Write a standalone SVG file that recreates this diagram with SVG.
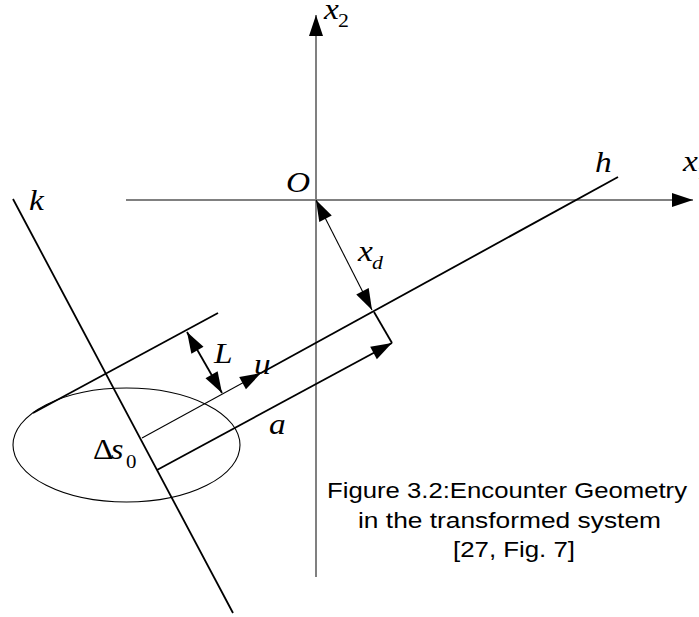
<svg xmlns="http://www.w3.org/2000/svg" width="699" height="617" viewBox="0 0 699 617">
<style>
.ax{stroke:#808080;stroke-width:2;fill:none}
.thick{stroke:#000;stroke-width:1.8;fill:none}
.thin{stroke:#000;stroke-width:1.1;fill:none}
.m{font-family:"Liberation Serif","Times New Roman",serif;font-style:italic;font-size:29px;fill:#000}
.up{font-style:normal}
.sub{font-size:19px}
.cap{font-family:"Liberation Sans",Arial,sans-serif;font-size:21.5px;fill:#000}
</style>
<defs>
<marker id="ah" markerUnits="userSpaceOnUse" markerWidth="22" markerHeight="15" refX="21" refY="7" orient="auto-start-reverse" overflow="visible">
<path d="M0,0 L21,7 L0,14 z" fill="#000"/>
</marker>
</defs>
<rect width="699" height="617" fill="#fff"/>
<g id="axes">
<line class="ax" x1="126" y1="200" x2="693" y2="200" marker-end="url(#ah)"/>
<line class="ax" x1="316" y1="577" x2="316" y2="15" marker-end="url(#ah)"/>
</g>
<g id="geometry">
<ellipse class="thin" cx="126.5" cy="445" rx="113.5" ry="57"/>
<line class="thick" x1="13" y1="199" x2="233" y2="613"/>
<line class="thick" x1="618" y1="177" x2="261" y2="373"/>
<line class="thick" x1="33" y1="413" x2="218" y2="313"/>
</g>
<g id="connectors">
<line class="thin" x1="142" y1="438" x2="261" y2="373" marker-end="url(#ah)"/>
<line class="thick" x1="157" y1="470" x2="392" y2="343" marker-end="url(#ah)"/>
<line class="thick" x1="374" y1="312" x2="392" y2="343"/>
<line class="thin" x1="316" y1="200" x2="372" y2="310" marker-start="url(#ah)" marker-end="url(#ah)"/>
<line class="thick" x1="187" y1="332" x2="222" y2="393" marker-start="url(#ah)" marker-end="url(#ah)"/>
</g>
<g id="labels">
<text class="m" transform="translate(324 19) scale(1.15 1)">x</text>
<text class="m up sub" transform="translate(338 27) scale(1.15 1)">2</text>
<text class="m" transform="translate(683 171) scale(1.15 1)">x</text>
<text class="m up sub" transform="translate(697 179) scale(1.15 1)">1</text>
<text class="m" transform="translate(286 192) scale(1.15 1)">O</text>
<text class="m" transform="translate(595 172) scale(1.15 1)">h</text>
<text class="m" transform="translate(29 210) scale(1.15 1)">k</text>
<text class="m" transform="translate(358 261) scale(1.15 1)">x</text>
<text class="m sub" transform="translate(372 269) scale(1.15 1)">d</text>
<text class="m" transform="translate(214 363) scale(1.15 1)">L</text>
<text class="m" transform="translate(254 374) scale(1.15 1)">u</text>
<text class="m" transform="translate(269 434) scale(1.15 1)">a</text>
<text class="m up" transform="translate(93 459) scale(1.1 1)">Δ</text>
<text class="m" transform="translate(111 459) scale(1.1 1)">s</text>
<text class="m up sub" transform="translate(126 468) scale(1.1 1)">0</text>
</g>
<g id="caption">
<text class="cap" x="327" y="498" textLength="360" lengthAdjust="spacingAndGlyphs">Figure 3.2:Encounter Geometry</text>
<text class="cap" x="358" y="527.5" textLength="303" lengthAdjust="spacingAndGlyphs">in the transformed system</text>
<text class="cap" x="453" y="557" textLength="122" lengthAdjust="spacingAndGlyphs">[27, Fig. 7]</text>
</g>
</svg>
